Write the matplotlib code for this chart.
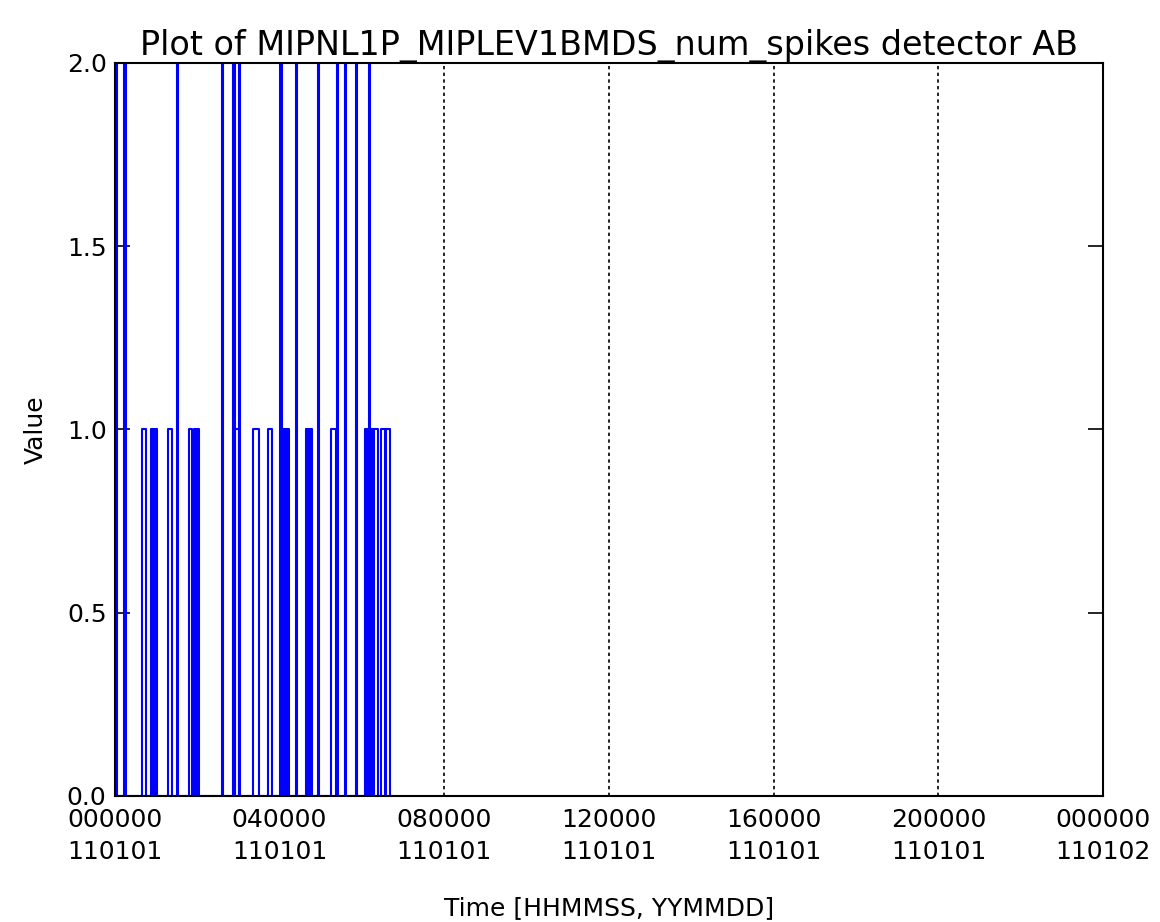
import numpy as np
import matplotlib
matplotlib.use("Agg")
import matplotlib.pyplot as plt

# Spike pulses (time in hours since 000000 110101)
pulse_start = [0.00, 0.22, 0.66, 0.88, 0.95, 0.99, 1.29, 1.51, 1.80, 1.92,
               1.96, 2.00, 2.60, 2.87, 2.92, 3.01, 3.35, 3.72, 4.01, 4.06,
               4.12, 4.18, 4.40, 4.64, 4.68, 4.73, 4.93, 5.25, 5.40, 5.59,
               5.86, 6.08, 6.12, 6.17, 6.22, 6.30, 6.47, 6.59]
pulse_end = [0.05, 0.27, 0.75, 0.92, 0.97, 1.02, 1.39, 1.53, 1.87, 1.94,
             1.98, 2.04, 2.63, 2.92, 3.01, 3.04, 3.50, 3.82, 4.06, 4.10,
             4.15, 4.23, 4.42, 4.67, 4.71, 4.79, 4.96, 5.37, 5.42, 5.62,
             5.88, 6.11, 6.15, 6.20, 6.27, 6.39, 6.56, 6.68]
pulse_value = [2, 2, 1, 1, 1, 1, 1, 2, 1, 1,
               1, 1, 2, 2, 1, 2, 1, 1, 2, 1,
               1, 1, 2, 1, 1, 1, 2, 1, 2, 2,
               2, 1, 1, 2, 1, 1, 1, 1]
data_end = 6.76

tick_hours = [0, 4, 8, 12, 16, 20, 24]
tick_labels = ["000000\n110101", "040000\n110101", "080000\n110101",
               "120000\n110101", "160000\n110101", "200000\n110101",
               "000000\n110102"]
grid_hours = [4, 8, 12, 16, 20]
y_ticks = [0, 0.5, 1.0, 1.5, 2.0]
y_labels = ["0.0", "0.5", "1.0", "1.5", "2.0"]

# Build the line path from the pulses
t = [0.0]
v = [0.0]
for s, e, h in zip(pulse_start, pulse_end, pulse_value):
    t += [s, s, e, e]
    v += [0, h, h, 0]
t.append(data_end)
v.append(0.0)

plt.rcParams['font.family'] = ['DejaVu Sans']

fig = plt.figure(figsize=(11.6, 9.22), dpi=100)
ax = fig.add_axes([0.099, 0.1367, 0.852, 0.795])

for g in grid_hours:
    ax.axvline(g, color="black", linestyle=(0, (2, 2)), linewidth=1.2, zorder=1)

ax.plot(t, v, color="#0000ff", linewidth=1.5, zorder=2)

ax.set_xlim(0, 24)
ax.set_ylim(0, 2)
ax.set_xticks(tick_hours)
ax.set_xticklabels(tick_labels, fontsize=18, linespacing=1.4)
ax.set_yticks(y_ticks)
ax.set_yticklabels(y_labels, fontsize=18)
ax.tick_params(axis="x", length=0, pad=9)
ax.tick_params(axis="y", direction="in", length=11, width=1.2,
               left=True, right=True, pad=6)
for sp in ax.spines.values():
    sp.set_linewidth(1.5)

ax.set_xlabel("Time [HHMMSS, YYMMDD]", fontsize=18, va="top")
ax.xaxis.set_label_coords(0.5, -0.136)
ax.set_ylabel("Value", fontsize=18)
ax.yaxis.set_label_coords(-0.068, 0.5)
ax.set_title("Plot of MIPNL1P_MIPLEV1BMDS_num_spikes detector AB",
             fontsize=24, pad=4)

fig.savefig("out.png", dpi=100)
